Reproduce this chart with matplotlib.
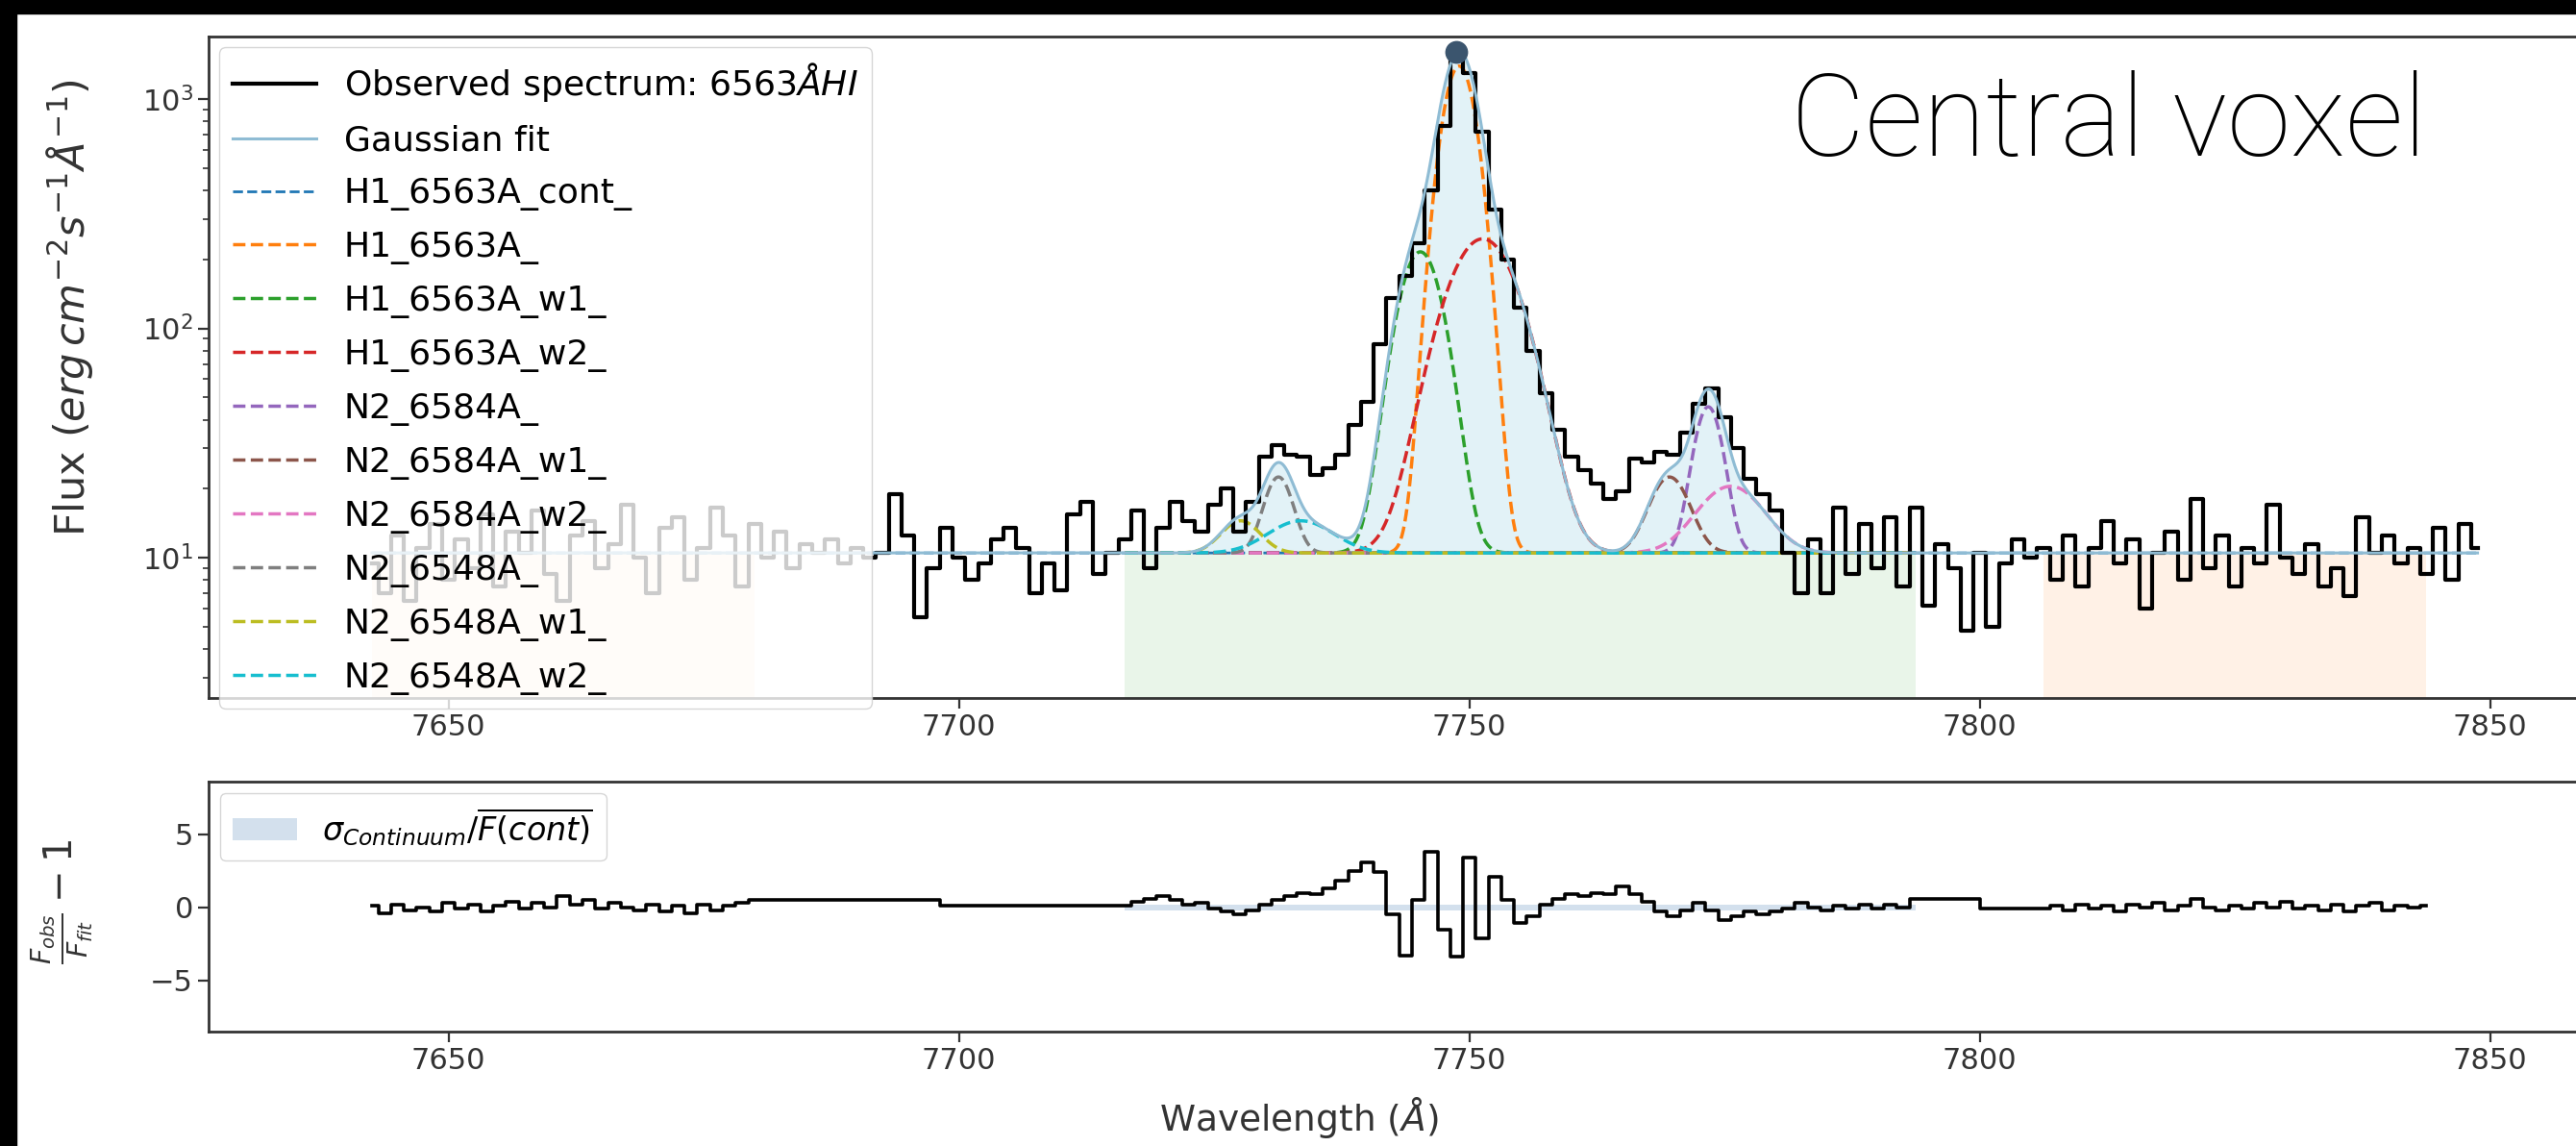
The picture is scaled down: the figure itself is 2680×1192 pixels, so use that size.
import numpy as np
import matplotlib
matplotlib.use("Agg")
import matplotlib.pyplot as plt
from matplotlib.patches import Rectangle

# ---------------- observed spectrum (1.25 A sampling) ----------------
wave_start = 7642.5
wave_step = 1.25
flux_obs = [
    9.5, 7.0, 12.5, 6.5, 11.0, 14.0, 8.0, 12.0, 9.0, 15.5,
    7.5, 13.0, 10.5, 16.0, 8.5, 6.5, 12.5, 14.5, 9.0, 11.5,
    17.0, 10.0, 7.0, 13.5, 15.0, 8.0, 11.0, 16.5, 12.5, 7.5,
    14.0, 10.0, 13.0, 9.0, 11.5, 10.5, 12.0, 9.5, 11.0, 10.0,
    10.5, 19.0, 12.5, 5.5, 9.0, 13.5, 10.0, 8.0, 9.5, 12.0,
    13.5, 11.0, 7.0, 9.5, 7.2, 15.5, 17.5, 8.5, 10.5, 12.0,
    16.0, 9.0, 13.5, 17.5, 14.5, 13.0, 17.0, 20.0, 13.0, 17.5,
    27.5, 31.0, 28.0, 27.5, 23.0, 24.5, 28.0, 38.0, 48.0, 85.0,
    135.0, 170.0, 235.0, 400.0, 760.0, 1600.0, 1300.0, 720.0, 330.0, 200.0,
    123.0, 80.0, 52.0, 36.0, 27.5, 24.0, 21.0, 18.0, 19.5, 27.0,
    26.0, 29.0, 28.0, 35.0, 47.0, 55.0, 41.0, 30.0, 22.0, 19.0,
    16.0, 10.5, 7.0, 12.0, 7.0, 16.5, 8.5, 14.0, 9.0, 15.0,
    7.5, 16.5, 6.2, 11.5, 9.0, 4.8, 10.5, 5.0, 9.5, 12.0,
    10.0, 11.0, 8.0, 12.5, 7.5, 11.0, 14.5, 9.5, 12.0, 6.0,
    10.5, 13.0, 8.0, 18.0, 9.0, 12.5, 7.5, 11.0, 9.5, 17.0,
    10.0, 8.5, 11.5, 7.5, 9.0, 6.8, 15.0, 10.5, 12.5, 9.5,
    11.0, 8.5, 13.5, 8.0, 14.0, 11.0,
]

peak_wave = 7748.75
peak_flux = 1600.0

# ---------------- Gaussian fit: continuum + components ----------------
cont_level = 10.5
comp_labels = ['H1_6563A_', 'H1_6563A_w1_', 'H1_6563A_w2_',
               'N2_6584A_', 'N2_6584A_w1_', 'N2_6584A_w2_',
               'N2_6548A_', 'N2_6548A_w1_', 'N2_6548A_w2_']
comp_center = [7749.0, 7745.2, 7751.3, 7773.4, 7769.6, 7775.6, 7731.3, 7727.6, 7733.5]
comp_amp = [1380.0, 205.0, 235.0, 35.0, 12.0, 10.0, 12.0, 4.0, 4.0]
comp_sigma = [1.55, 2.0, 3.3, 1.3, 1.8, 3.0, 1.3, 1.8, 3.0]
comp_colors = ['tab:orange', 'tab:green', 'tab:red', 'tab:purple', 'tab:brown',
               'tab:pink', 'tab:gray', 'tab:olive', 'tab:cyan']

# ---------------- bands ----------------
band_cont_left = [7642.5, 7680.0]
band_line = [7716.25, 7793.75]
band_cont_right = [7806.25, 7843.75]

# ---------------- residuals F_obs/F_fit - 1 ----------------
resid_left = [0.1, -0.4, 0.2, -0.2, 0.0, -0.3, 0.3, -0.1, 0.2, -0.3,
              0.1, 0.4, -0.1, 0.3, 0.0, 0.8, 0.2, 0.5, -0.1, 0.3,
              0.0, -0.2, 0.2, -0.3, 0.1, -0.4, 0.2, -0.2, 0.1, 0.3, 0.5]
resid_line = [0.1, 0.4, 0.6, 0.8, 0.5, 0.2, 0.3, -0.1, -0.3, -0.5,
              -0.2, 0.2, 0.5, 0.8, 1.0, 0.9, 1.3, 1.8, 2.5, 3.1,
              2.4, -0.5, -3.3, 0.5, 3.8, -1.5, -3.4, 3.4, -2.1, 2.1,
              0.5, -1.1, -0.6, 0.2, 0.6, 0.9, 0.8, 1.0, 0.9, 1.4,
              0.9, 0.4, -0.3, -0.6, -0.2, 0.3, -0.2, -0.9, -0.6, -0.3,
              -0.5, -0.3, -0.1, 0.3, 0.0, -0.2, 0.1, -0.1, 0.2, -0.1,
              0.2, 0.0, 0.6]
resid_right = [-0.1, 0.1, -0.2, 0.2, -0.1, 0.1, -0.3, 0.2, 0.0, 0.3,
               -0.2, 0.1, 0.6, 0.0, -0.2, 0.1, -0.1, 0.3, 0.0, 0.4,
               -0.1, 0.1, -0.2, 0.2, -0.3, 0.1, 0.3, -0.2, 0.1, 0.0, 0.1]
sigma_cont = 0.2

# ---------------- figure ----------------
plt.rcParams['font.family'] = ['DejaVu Sans']
plt.rcParams['mathtext.fontset'] = 'dejavusans'
FS_TICK = 22
FS_LEG = 26
W, H = 2680, 1192
fig = plt.figure(figsize=(W / 100, H / 100), dpi=100)
fig.patch.set_facecolor('white')

x0, x1 = 217, 2731
ax1 = fig.add_axes([x0 / W, 1 - 726 / H, (x1 - x0) / W, (726 - 38) / H])
ax2 = fig.add_axes([x0 / W, 1 - 1073 / H, (x1 - x0) / W, (1073 - 813) / H])

xlim = (7626.5, 7863.2)
ylim1 = (2.45, 1870.0)

wave = wave_start + wave_step * np.arange(len(flux_obs))
flux = np.array(flux_obs)

# band shading (continuum bands orange, line band green)
for band, col in [(band_cont_left, 'tab:orange'), (band_line, 'tab:green'),
                  (band_cont_right, 'tab:orange')]:
    ax1.fill_between(band, ylim1[0], cont_level, color=col, alpha=0.1, lw=0, zorder=0)

# fit profiles
xfit = np.linspace(wave[0], wave[-1], 3000)
comps = []
for c, a, s in zip(comp_center, comp_amp, comp_sigma):
    comps.append(a * np.exp(-0.5 * ((xfit - c) / s) ** 2))
total = cont_level + np.sum(comps, axis=0)

ax1.fill_between(xfit, cont_level, total, color='#bfe3ef', alpha=0.45, lw=0, zorder=1)

ax1.step(wave, flux, where='mid', color='black', lw=3.0, zorder=4,
         label=r'Observed spectrum: $6563\AA HI$')
ax1.plot(xfit, total, color='#8fbcd4', lw=2.2, zorder=5, label='Gaussian fit')
ax1.plot(xfit, np.full_like(xfit, cont_level), ls='--', color='tab:blue', lw=2.0,
         zorder=3, label='H1_6563A_cont_')
in_band = (xfit >= band_line[0]) & (xfit <= band_line[1])
for prof, lab, col in zip(comps, comp_labels, comp_colors):
    ax1.plot(xfit[in_band], cont_level + prof[in_band], ls='--', color=col, lw=2.5,
             zorder=3, label=lab)

ax1.scatter([peak_wave], [peak_flux], s=260, color='#3b556e', zorder=6)

ax1.set_yscale('log')
ax1.set_xlim(*xlim)
ax1.set_ylim(*ylim1)
ax1.set_ylabel(r'Flux $(erg\,cm^{-2} s^{-1} \AA^{-1})$', fontsize=31, color='#333333')
ax1.yaxis.set_label_coords(-0.047, 0.59)

leg1 = ax1.legend(loc='upper left', fontsize=FS_LEG, framealpha=0.8, borderaxespad=0.3,
                  handlelength=2.4, labelspacing=0.58)
leg1.set_zorder(10)

# residual panel
res_wave = np.concatenate([
    band_cont_left[0] + wave_step * np.arange(len(resid_left)),
    band_line[0] + wave_step * np.arange(len(resid_line)),
    band_cont_right[0] + wave_step * np.arange(len(resid_right)),
])
res_val = np.concatenate([resid_left, resid_line, resid_right])

ax2.fill_between(band_line, -sigma_cont, sigma_cont, color='#a9c3dc', alpha=0.5, lw=0,
                 zorder=1, label=r'$\sigma_{Continuum}/\overline{F(cont)}$')
ax2.step(res_wave, res_val, where='mid', color='black', lw=2.6, zorder=3)
ax2.set_xlim(*xlim)
ax2.set_ylim(-8.5, 8.6)
ax2.set_yticks([-5, 0, 5])
ax2.set_ylabel(r'$\frac{F_{obs}}{F_{fit}} - 1$', fontsize=29, color='#333333')
ax2.yaxis.set_label_coords(-0.047, 0.52)
ax2.set_xlabel(r'Wavelength $(\AA)$', fontsize=27, color='#333333')
ax2.xaxis.set_label_coords(0.451, -0.255)
ax2.legend(loc='upper left', fontsize=FS_LEG - 2, framealpha=0.8, borderaxespad=0.35,
           handlelength=2.0)

for ax in (ax1, ax2):
    ax.set_xticks([7650, 7700, 7750, 7800, 7850])
    ax.tick_params(which='major', labelsize=FS_TICK, length=8, width=1.6,
                   colors='#333333')
    ax.tick_params(which='minor', length=4.5, width=1.2, colors='#333333')
    for sp in ax.spines.values():
        sp.set_linewidth(2.0)
        sp.set_color('#333333')

fig.text(1863 / W, 1 - 162 / H, 'Central voxel', fontsize=86, family='Roboto',
         fontweight='light', color='black', va='baseline', ha='left')

# dark frame along the top and left edges
fig.patches.append(Rectangle((0, 1 - 14 / H), 1, 14 / H, transform=fig.transFigure,
                             color='black', zorder=20))
fig.patches.append(Rectangle((0, 0), 17 / W, 1, transform=fig.transFigure,
                             color='black', zorder=20))

fig.savefig('out.png', dpi=100)
